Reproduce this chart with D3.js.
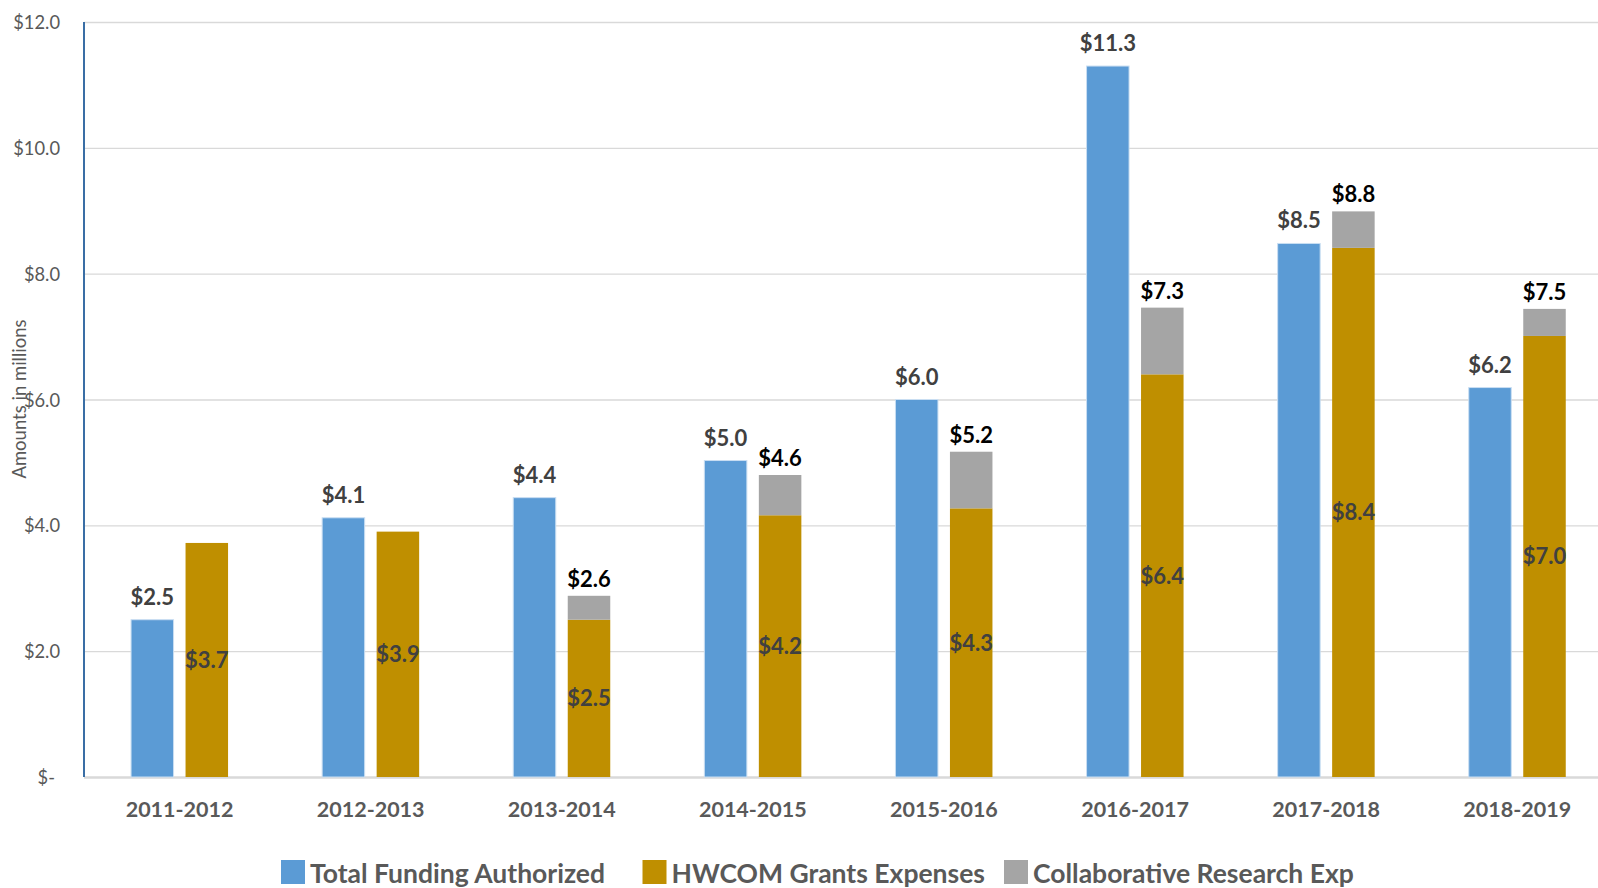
<!DOCTYPE html>
<html>
<head>
<meta charset="utf-8">
<script src="https://cdn.jsdelivr.net/npm/d3@7/dist/d3.min.js"></script>
<style>
  html, body { margin: 0; padding: 0; background: #fff; }
  svg { display: block; font-family: Lato, "Open Sans", sans-serif; }
</style>
</head>
<body>
<svg id="chart" width="1598" height="888"></svg>
<script>
// ---- Data (millions of $) ----
const categories = ["2011-2012","2012-2013","2013-2014","2014-2015","2015-2016","2016-2017","2017-2018","2018-2019"];
const totalFunding   = [2.5, 4.12, 4.44, 5.03, 6.0, 11.3, 8.48, 6.19];
const hwcomGrants    = [3.72, 3.9, 2.5, 4.16, 4.27, 6.4, 8.41, 7.01];
const collabResearch = [0, 0, 0.38, 0.64, 0.9, 1.06, 0.58, 0.43];
const reportedTotals = [null, null, 2.6, 4.6, 5.2, 7.3, 8.8, 7.5];
const yTicks = [0, 2, 4, 6, 8, 10, 12];
const seriesNames = ["Total Funding Authorized", "HWCOM Grants Expenses", "Collaborative Research Exp"];

// ---- Styles ----
const colors = { blue: "#5b9bd5", gold: "#bf8f00", gray: "#a5a5a5" };
const W = 1598, H = 888;
const plotLeft = 84, plotTop = 22, plotBottom = 777;

const svg = d3.select("#chart");

const y = d3.scaleLinear().domain([0, 12]).range([plotBottom, plotTop]);
const x0 = d3.scaleBand().domain(categories).range([plotLeft, plotLeft + 8 * 191.1])
  .paddingInner(0.4924).paddingOuter(0.2462);
const x1 = d3.scaleBand().domain(["funding", "expenses"]).range([0, x0.bandwidth()])
  .paddingInner(0.22).paddingOuter(0);

const fmt = v => "$" + v.toFixed(1);

// gridlines + y tick labels
const yAxis = d3.axisLeft(y).tickValues(yTicks).tickSize(-(W - plotLeft)).tickPadding(24)
  .tickFormat(d => d === 0 ? "$-" : fmt(d));
const gy = svg.append("g").attr("transform", `translate(${plotLeft},0)`).call(yAxis);
gy.select(".domain").remove();
gy.selectAll(".tick line").attr("stroke", "#d9d9d9").attr("stroke-width", 1.3);
gy.selectAll(".tick text").attr("fill", "#595959").attr("font-size", 18.3)
  .attr("font-family", "Lato, sans-serif").attr("dy", "0.36em")
  .attr("dx", d => d === 0 ? -5 : 0);
gy.selectAll(".tick").filter(d => d === 0).select("line").attr("stroke-width", 2.5);

// y-axis title
svg.append("text")
  .attr("transform", `translate(26,399) rotate(-90)`)
  .attr("text-anchor", "middle")
  .attr("fill", "#595959").attr("font-size", 18.5)
  .text("Amounts in millions");

// bars
const groups = svg.append("g").selectAll("g").data(categories).join("g")
  .attr("transform", d => `translate(${x0(d)},0)`);

groups.append("rect")
  .attr("x", x1("funding")).attr("width", x1.bandwidth())
  .attr("y", (d, i) => y(totalFunding[i]))
  .attr("height", (d, i) => y(0) - y(totalFunding[i]))
  .attr("fill", colors.blue).attr("stroke", "#c9def2").attr("stroke-width", 1);

groups.append("rect")
  .attr("x", x1("expenses")).attr("width", x1.bandwidth())
  .attr("y", (d, i) => y(hwcomGrants[i]))
  .attr("height", (d, i) => y(0) - y(hwcomGrants[i]))
  .attr("fill", colors.gold);

groups.filter((d, i) => collabResearch[i] > 0).append("rect")
  .attr("x", x1("expenses")).attr("width", x1.bandwidth())
  .attr("y", d => { const i = categories.indexOf(d); return y(hwcomGrants[i] + collabResearch[i]); })
  .attr("height", d => { const i = categories.indexOf(d); return y(hwcomGrants[i]) - y(hwcomGrants[i] + collabResearch[i]); })
  .attr("fill", colors.gray);

// labels
groups.append("text")
  .attr("x", x1("funding") + x1.bandwidth() / 2)
  .attr("y", (d, i) => y(totalFunding[i]) - 15)
  .attr("text-anchor", "middle").attr("font-weight", 700).attr("font-size", 22)
  .attr("fill", "#404040")
  .text((d, i) => fmt(totalFunding[i]));

groups.append("text")
  .attr("x", x1("expenses") + x1.bandwidth() / 2)
  .attr("y", (d, i) => y(hwcomGrants[i] / 2))
  .attr("dy", "0.36em")
  .attr("text-anchor", "middle").attr("font-weight", 700).attr("font-size", 22)
  .attr("fill", "#404040")
  .text((d, i) => fmt(hwcomGrants[i]));

groups.filter((d, i) => reportedTotals[i] !== null).append("text")
  .attr("x", x1("expenses") + x1.bandwidth() / 2)
  .attr("y", d => { const i = categories.indexOf(d); return y(hwcomGrants[i] + collabResearch[i]) - 9; })
  .attr("text-anchor", "middle").attr("font-weight", 700).attr("font-size", 22)
  .attr("fill", "#000")
  .text(d => fmt(reportedTotals[categories.indexOf(d)]));

// blue y axis line
svg.append("line").attr("x1", plotLeft).attr("x2", plotLeft).attr("y1", plotTop).attr("y2", plotBottom)
  .attr("stroke", "#3a6ea5").attr("stroke-width", 2);

// x axis labels
const xAxis = d3.axisBottom(x0).tickSize(0).tickPadding(25);
const gx = svg.append("g").attr("transform", `translate(0,${plotBottom})`).call(xAxis);
gx.select(".domain").remove();
gx.selectAll(".tick text").attr("fill", "#595959").attr("font-size", 21.5)
  .attr("font-weight", 700).attr("font-family", "Lato, sans-serif");

// legend (equal-width entries, like the spreadsheet legend)
const legColors = [colors.blue, colors.gold, colors.gray];
const legItemW = 361.5;
seriesNames.forEach((name, i) => {
  const lx = 281 + i * legItemW;
  svg.append("rect").attr("x", lx).attr("y", 860).attr("width", 24).attr("height", 24)
    .attr("fill", legColors[i]);
  svg.append("text").attr("x", lx + 29).attr("y", 883)
    .attr("fill", "#595959").attr("font-size", 26.5).attr("font-weight", 700)
    .text(name);
});
</script>
</body>
</html>
